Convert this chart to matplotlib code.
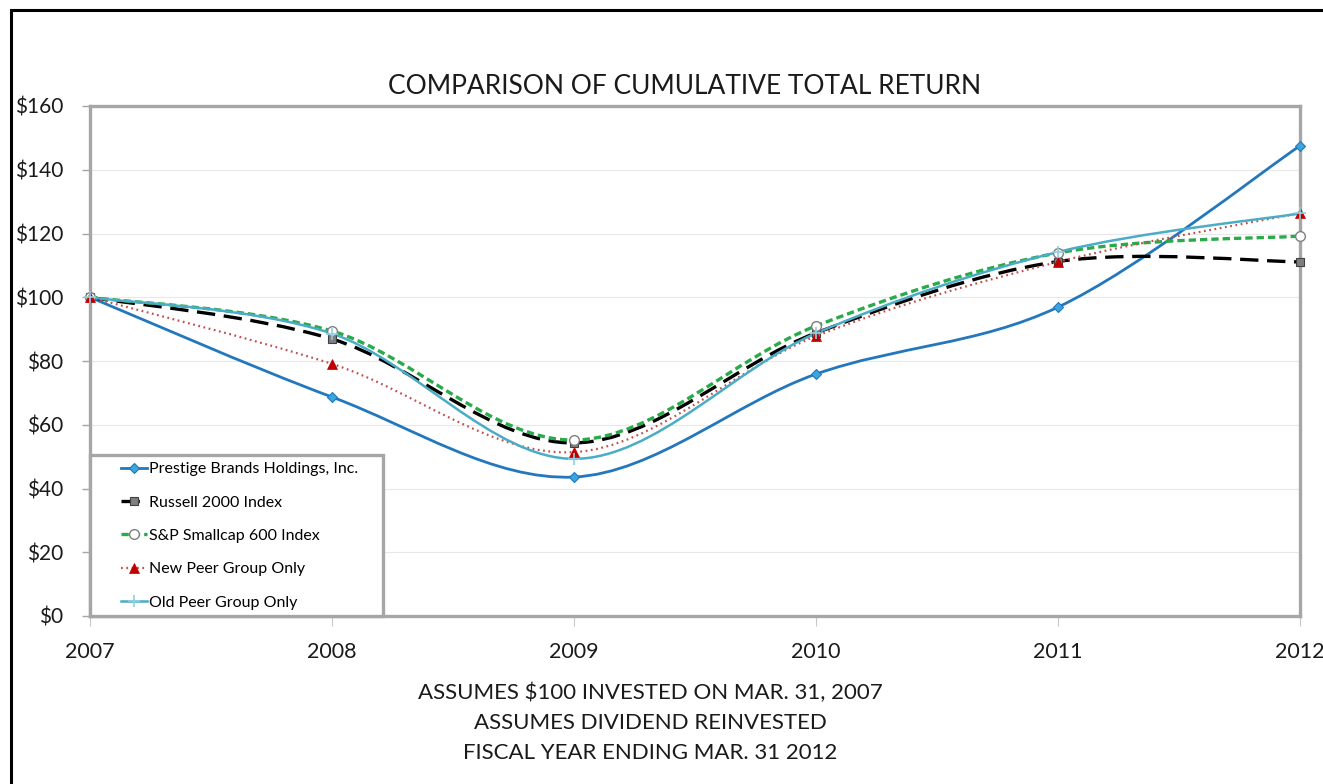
import numpy as np
import matplotlib.pyplot as plt
from matplotlib.path import Path
from matplotlib.patches import PathPatch, Rectangle
from matplotlib.lines import Line2D

plt.rcParams['font.family'] = ['Lato', 'DejaVu Sans']

# Data (value of $100 invested on Mar. 31, 2007)
years = [2007, 2008, 2009, 2010, 2011, 2012]
prestige = [100, 68.7, 43.6, 75.9, 96.9, 147.5]
russell = [100, 86.9, 54.3, 88.8, 111.2, 111.1]
sp600 = [100, 89.4, 55.2, 91.0, 113.9, 119.2]
new_peer = [100, 79.1, 51.4, 87.8, 111.1, 126.4]
old_peer = [100, 88.6, 49.3, 88.7, 114.2, 126.3]

y_ticks = [0, 20, 40, 60, 80, 100, 120, 140, 160]
y_labels = ['$' + str(v) for v in y_ticks]

series = [
    ('Prestige Brands Holdings, Inc.', prestige,
     dict(color='#2377bd', lw=2.0, ls='-'),
     dict(marker='D', ms=5, mfc='#3aa6dd', mec='#2377bd', mew=0.8)),
    ('Russell 2000 Index', russell,
     dict(color='black', lw=2.4, ls=(0, (5.5, 2.6))),
     dict(marker='s', ms=6, mfc='#7f7f7f', mec='#404040', mew=0.8)),
    ('S&P Smallcap 600 Index', sp600,
     dict(color='#2aaa4a', lw=2.4, ls=(0, (2.2, 1.2))),
     dict(marker='o', ms=7, mfc='white', mec='#7f7f7f', mew=1.0)),
    ('New Peer Group Only', new_peer,
     dict(color='#c0504d', lw=1.6, ls=(0, (0.8, 1.6))),
     dict(marker='^', ms=7, mfc='#c00000', mec='#c00000', mew=0.5)),
    ('Old Peer Group Only', old_peer,
     dict(color='#4bacc6', lw=1.8, ls='-'),
     dict(marker='+', ms=8, mfc='#4bacc6', mec='#8fd0e0', mew=1.2)),
]


def smooth_path(xs, ys):
    # Catmull-Rom style bezier, like Excel's smoothed line
    pts = np.column_stack([xs, ys]).astype(float)
    ext = np.vstack([pts[0], pts, pts[-1]])
    verts = [pts[0]]
    codes = [Path.MOVETO]
    for i in range(len(pts) - 1):
        p0, p1, p2, p3 = ext[i], ext[i + 1], ext[i + 2], ext[i + 3]
        verts += [p1 + (p2 - p0) / 6, p2 - (p3 - p1) / 6, p2]
        codes += [Path.CURVE4] * 3
    return Path(verts, codes)


fig = plt.figure(figsize=(13.23, 7.84), dpi=100)
ax = fig.add_axes([90 / 1323, 1 - 616 / 784, 1210 / 1323, 510 / 784])

handles = []
for name, vals, line_kw, mk_kw in series:
    patch = PathPatch(smooth_path(years, vals), fill=False,
                      edgecolor=line_kw['color'], lw=line_kw['lw'],
                      linestyle=line_kw['ls'], capstyle='butt', zorder=3)
    ax.add_patch(patch)
    ax.plot(years, vals, ls='none', zorder=4, clip_on=False, **mk_kw)
    handles.append(Line2D([], [], color=line_kw['color'], lw=line_kw['lw'],
                          ls=line_kw['ls'], label=name, **mk_kw))

ax.set_xlim(2007, 2012)
ax.set_ylim(0, 160)
ax.set_yticks(y_ticks)
ax.set_yticklabels(y_labels, fontsize=15, color='#1a1a1a')
ax.set_xticks(years)
ax.set_xticklabels([str(y) for y in years], fontsize=15.5, color='#1a1a1a')
ax.grid(axis='y', color='#e8e8e8', lw=0.8, zorder=0)
ax.set_axisbelow(True)
for s in ax.spines.values():
    s.set_color('#a6a6a6')
    s.set_linewidth(2.4)
ax.tick_params(axis='y', length=6, width=1, color='#a6a6a6', pad=13)
ax.tick_params(axis='x', length=7, width=0.8, color='#c8c8c8', pad=12)

# legend box drawn separately so the padding matches the original
ax.add_patch(Rectangle((0, 0), 293 / 1210, 161 / 510, transform=ax.transAxes,
                       facecolor='white', edgecolor='#a6a6a6', lw=2.4,
                       zorder=5, clip_on=False))
leg = ax.legend(handles=handles, loc='upper left',
                bbox_to_anchor=(31 / 1210, 154 / 510),
                fontsize=11.5, frameon=False, handlelength=1.6,
                handletextpad=0.15, labelspacing=1.2, borderpad=0,
                borderaxespad=0.0)
leg.set_zorder(6)

fig.text(685 / 1323, 1 - 87 / 784, 'COMPARISON OF CUMULATIVE TOTAL RETURN',
         ha='center', va='center', fontsize=19, color='#1a1a1a')
for i, line in enumerate(['ASSUMES $100 INVESTED ON MAR. 31, 2007',
                          'ASSUMES DIVIDEND REINVESTED',
                          'FISCAL YEAR ENDING MAR. 31 2012']):
    fig.text(650 / 1323, 1 - (693 + 30 * i) / 784, line,
             ha='center', va='center', fontsize=16, color='#1a1a1a')

# outer frame of the chart area
fig.patches.append(Rectangle((11 / 1323, -0.05), 1.1, 1 - 10 / 784 + 0.05,
                             transform=fig.transFigure, fill=False,
                             edgecolor='black', lw=2.2))

fig.savefig('out.png', dpi=100)
